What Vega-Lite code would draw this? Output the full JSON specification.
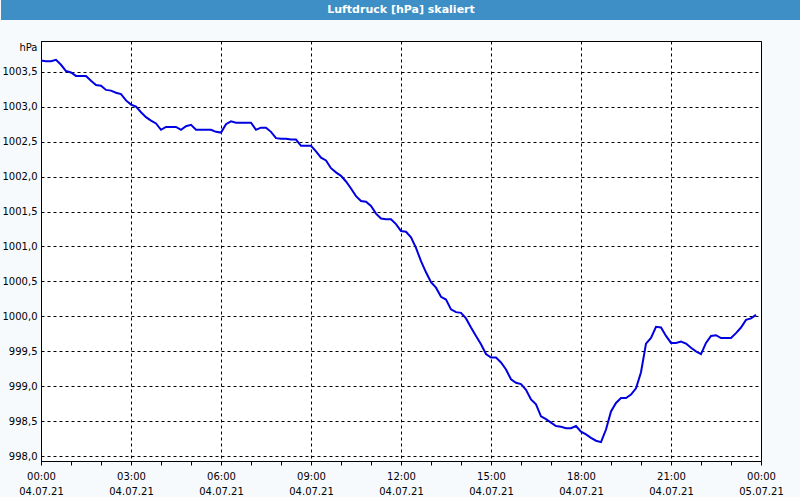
{
  "$schema": "https://vega.github.io/schema/vega-lite/v6.json",
  "padding": 0,
  "background": "#f7fafc",
  "spacing": 20,
  "config": {"font": "DejaVu Sans", "view": {"stroke": "black", "fill": "white"}},
  "vconcat": [
    {
      "width": 760,
      "height": 20,
      "view": {"stroke": null},
      "data": {"values": [{"title": "Luftdruck [hPa] skaliert"}]},
      "layer": [
        {"mark": {"type": "rect", "color": "#3d8fc6"},
         "encoding": {
           "x": {"datum": 0, "type": "quantitative", "scale": {"domain": [0, 1], "range": [-40, 760], "nice": false, "zero": false}, "axis": null},
           "x2": {"datum": 1}
         }},
        {"mark": {"type": "text", "color": "white", "fontWeight": "bold", "fontSize": 11, "baseline": "middle", "align": "center"},
         "encoding": {
           "x": {"datum": 0.5, "type": "quantitative"},
           "text": {"field": "title", "type": "nominal"}
         }}
      ]
    },
    {
      "width": 720,
      "height": 420,
      "data": {"values": [
        {"t": "2021-07-04T00:00", "p": 1003.66},
        {"t": "2021-07-04T00:10", "p": 1003.65},
        {"t": "2021-07-04T00:20", "p": 1003.65},
        {"t": "2021-07-04T00:30", "p": 1003.67},
        {"t": "2021-07-04T00:40", "p": 1003.60},
        {"t": "2021-07-04T00:50", "p": 1003.51},
        {"t": "2021-07-04T01:00", "p": 1003.49},
        {"t": "2021-07-04T01:10", "p": 1003.44},
        {"t": "2021-07-04T01:20", "p": 1003.44},
        {"t": "2021-07-04T01:30", "p": 1003.44},
        {"t": "2021-07-04T01:40", "p": 1003.37},
        {"t": "2021-07-04T01:50", "p": 1003.31},
        {"t": "2021-07-04T02:00", "p": 1003.30},
        {"t": "2021-07-04T02:10", "p": 1003.24},
        {"t": "2021-07-04T02:20", "p": 1003.23},
        {"t": "2021-07-04T02:30", "p": 1003.20},
        {"t": "2021-07-04T02:40", "p": 1003.18},
        {"t": "2021-07-04T02:50", "p": 1003.09},
        {"t": "2021-07-04T03:00", "p": 1003.03},
        {"t": "2021-07-04T03:10", "p": 1003.00},
        {"t": "2021-07-04T03:20", "p": 1002.92},
        {"t": "2021-07-04T03:30", "p": 1002.85},
        {"t": "2021-07-04T03:40", "p": 1002.80},
        {"t": "2021-07-04T03:50", "p": 1002.76},
        {"t": "2021-07-04T04:00", "p": 1002.67},
        {"t": "2021-07-04T04:10", "p": 1002.71},
        {"t": "2021-07-04T04:20", "p": 1002.71},
        {"t": "2021-07-04T04:30", "p": 1002.71},
        {"t": "2021-07-04T04:40", "p": 1002.67},
        {"t": "2021-07-04T04:50", "p": 1002.72},
        {"t": "2021-07-04T05:00", "p": 1002.74},
        {"t": "2021-07-04T05:10", "p": 1002.67},
        {"t": "2021-07-04T05:20", "p": 1002.67},
        {"t": "2021-07-04T05:30", "p": 1002.67},
        {"t": "2021-07-04T05:40", "p": 1002.67},
        {"t": "2021-07-04T05:50", "p": 1002.64},
        {"t": "2021-07-04T06:00", "p": 1002.63},
        {"t": "2021-07-04T06:10", "p": 1002.75},
        {"t": "2021-07-04T06:20", "p": 1002.79},
        {"t": "2021-07-04T06:30", "p": 1002.77},
        {"t": "2021-07-04T06:40", "p": 1002.77},
        {"t": "2021-07-04T06:50", "p": 1002.77},
        {"t": "2021-07-04T07:00", "p": 1002.77},
        {"t": "2021-07-04T07:10", "p": 1002.67},
        {"t": "2021-07-04T07:20", "p": 1002.70},
        {"t": "2021-07-04T07:30", "p": 1002.70},
        {"t": "2021-07-04T07:40", "p": 1002.64},
        {"t": "2021-07-04T07:50", "p": 1002.55},
        {"t": "2021-07-04T08:00", "p": 1002.54},
        {"t": "2021-07-04T08:10", "p": 1002.54},
        {"t": "2021-07-04T08:20", "p": 1002.53},
        {"t": "2021-07-04T08:30", "p": 1002.53},
        {"t": "2021-07-04T08:40", "p": 1002.44},
        {"t": "2021-07-04T08:50", "p": 1002.44},
        {"t": "2021-07-04T09:00", "p": 1002.44},
        {"t": "2021-07-04T09:10", "p": 1002.36},
        {"t": "2021-07-04T09:20", "p": 1002.27},
        {"t": "2021-07-04T09:30", "p": 1002.23},
        {"t": "2021-07-04T09:40", "p": 1002.12},
        {"t": "2021-07-04T09:50", "p": 1002.06},
        {"t": "2021-07-04T10:00", "p": 1002.01},
        {"t": "2021-07-04T10:10", "p": 1001.93},
        {"t": "2021-07-04T10:20", "p": 1001.83},
        {"t": "2021-07-04T10:30", "p": 1001.72},
        {"t": "2021-07-04T10:40", "p": 1001.65},
        {"t": "2021-07-04T10:50", "p": 1001.64},
        {"t": "2021-07-04T11:00", "p": 1001.58},
        {"t": "2021-07-04T11:10", "p": 1001.47},
        {"t": "2021-07-04T11:20", "p": 1001.40},
        {"t": "2021-07-04T11:30", "p": 1001.39},
        {"t": "2021-07-04T11:40", "p": 1001.39},
        {"t": "2021-07-04T11:50", "p": 1001.32},
        {"t": "2021-07-04T12:00", "p": 1001.22},
        {"t": "2021-07-04T12:10", "p": 1001.21},
        {"t": "2021-07-04T12:20", "p": 1001.13},
        {"t": "2021-07-04T12:30", "p": 1000.98},
        {"t": "2021-07-04T12:40", "p": 1000.79},
        {"t": "2021-07-04T12:50", "p": 1000.63},
        {"t": "2021-07-04T13:00", "p": 1000.49},
        {"t": "2021-07-04T13:10", "p": 1000.41},
        {"t": "2021-07-04T13:20", "p": 1000.28},
        {"t": "2021-07-04T13:30", "p": 1000.24},
        {"t": "2021-07-04T13:40", "p": 1000.10},
        {"t": "2021-07-04T13:50", "p": 1000.06},
        {"t": "2021-07-04T14:00", "p": 1000.05},
        {"t": "2021-07-04T14:10", "p": 999.97},
        {"t": "2021-07-04T14:20", "p": 999.84},
        {"t": "2021-07-04T14:30", "p": 999.72},
        {"t": "2021-07-04T14:40", "p": 999.60},
        {"t": "2021-07-04T14:50", "p": 999.46},
        {"t": "2021-07-04T15:00", "p": 999.41},
        {"t": "2021-07-04T15:10", "p": 999.41},
        {"t": "2021-07-04T15:20", "p": 999.34},
        {"t": "2021-07-04T15:30", "p": 999.24},
        {"t": "2021-07-04T15:40", "p": 999.10},
        {"t": "2021-07-04T15:50", "p": 999.05},
        {"t": "2021-07-04T16:00", "p": 999.03},
        {"t": "2021-07-04T16:10", "p": 998.95},
        {"t": "2021-07-04T16:20", "p": 998.81},
        {"t": "2021-07-04T16:30", "p": 998.74},
        {"t": "2021-07-04T16:40", "p": 998.57},
        {"t": "2021-07-04T16:50", "p": 998.53},
        {"t": "2021-07-04T17:00", "p": 998.48},
        {"t": "2021-07-04T17:10", "p": 998.43},
        {"t": "2021-07-04T17:20", "p": 998.42},
        {"t": "2021-07-04T17:30", "p": 998.40},
        {"t": "2021-07-04T17:40", "p": 998.40},
        {"t": "2021-07-04T17:50", "p": 998.43},
        {"t": "2021-07-04T18:00", "p": 998.35},
        {"t": "2021-07-04T18:10", "p": 998.31},
        {"t": "2021-07-04T18:20", "p": 998.26},
        {"t": "2021-07-04T18:30", "p": 998.22},
        {"t": "2021-07-04T18:40", "p": 998.20},
        {"t": "2021-07-04T18:50", "p": 998.38},
        {"t": "2021-07-04T19:00", "p": 998.64},
        {"t": "2021-07-04T19:10", "p": 998.76},
        {"t": "2021-07-04T19:20", "p": 998.83},
        {"t": "2021-07-04T19:30", "p": 998.83},
        {"t": "2021-07-04T19:40", "p": 998.88},
        {"t": "2021-07-04T19:50", "p": 998.97},
        {"t": "2021-07-04T20:00", "p": 999.20},
        {"t": "2021-07-04T20:10", "p": 999.61},
        {"t": "2021-07-04T20:20", "p": 999.69},
        {"t": "2021-07-04T20:30", "p": 999.85},
        {"t": "2021-07-04T20:40", "p": 999.84},
        {"t": "2021-07-04T20:50", "p": 999.72},
        {"t": "2021-07-04T21:00", "p": 999.62},
        {"t": "2021-07-04T21:10", "p": 999.62},
        {"t": "2021-07-04T21:20", "p": 999.64},
        {"t": "2021-07-04T21:30", "p": 999.61},
        {"t": "2021-07-04T21:40", "p": 999.55},
        {"t": "2021-07-04T21:50", "p": 999.50},
        {"t": "2021-07-04T22:00", "p": 999.46},
        {"t": "2021-07-04T22:10", "p": 999.62},
        {"t": "2021-07-04T22:20", "p": 999.72},
        {"t": "2021-07-04T22:30", "p": 999.73},
        {"t": "2021-07-04T22:40", "p": 999.69},
        {"t": "2021-07-04T22:50", "p": 999.69},
        {"t": "2021-07-04T23:00", "p": 999.69},
        {"t": "2021-07-04T23:10", "p": 999.76},
        {"t": "2021-07-04T23:20", "p": 999.84},
        {"t": "2021-07-04T23:30", "p": 999.95},
        {"t": "2021-07-04T23:40", "p": 999.97},
        {"t": "2021-07-04T23:50", "p": 1000.02}
      ]},
      "mark": {"type": "line", "color": "#0000e0", "strokeWidth": 2},
      "encoding": {
        "x": {
          "field": "t",
          "type": "temporal",
          "scale": {"domain": [{"year": 2021, "month": 7, "date": 4, "hours": 0}, {"year": 2021, "month": 7, "date": 5, "hours": 0}], "nice": false},
          "axis": {
            "title": null,
            "labelExpr": "hours(datum.value) % 3 == 0 ? [timeFormat(datum.value, '%H:%M'), timeFormat(datum.value, '%d.%m.%y')] : ''",
            "labelOverlap": false,
            "labelFlush": false,
            "labelFontSize": 10,
            "labelColor": "black",
            "labelLineHeight": 15,
            "labelPadding": 6,
            "tickSize": 4,
            "tickColor": "black",
            "domainColor": "black",
            "grid": true,
            "gridColor": "black",
            "gridDash": [3, 3],
            "gridOpacity": {"condition": {"test": "hours(datum.value) % 3 == 0", "value": 1}, "value": 0}
          }
        },
        "y": {
          "field": "p",
          "type": "quantitative",
          "scale": {"domain": [997.93, 1003.94], "nice": false, "zero": false},
          "axis": {
            "values": [998, 998.5, 999, 999.5, 1000, 1000.5, 1001, 1001.5, 1002, 1002.5, 1003, 1003.5],
            "labelExpr": "floor(datum.value) + ',' + (datum.value - floor(datum.value) > 0.25 ? '5' : '0')",
            "labelFontSize": 10,
            "labelColor": "black",
            "labelPadding": 4,
            "ticks": false,
            "domainColor": "black",
            "grid": true,
            "gridColor": "black",
            "gridDash": [3, 3],
            "minExtent": 40,
            "maxExtent": 40,
            "title": "hPa",
            "titleAngle": 0,
            "titleFontSize": 10,
            "titleFontWeight": "normal",
            "titleColor": "black",
            "titleAlign": "right",
            "titleBaseline": "middle",
            "titleX": -4,
            "titleY": 6
          }
        }
      }
    }
  ]
}
